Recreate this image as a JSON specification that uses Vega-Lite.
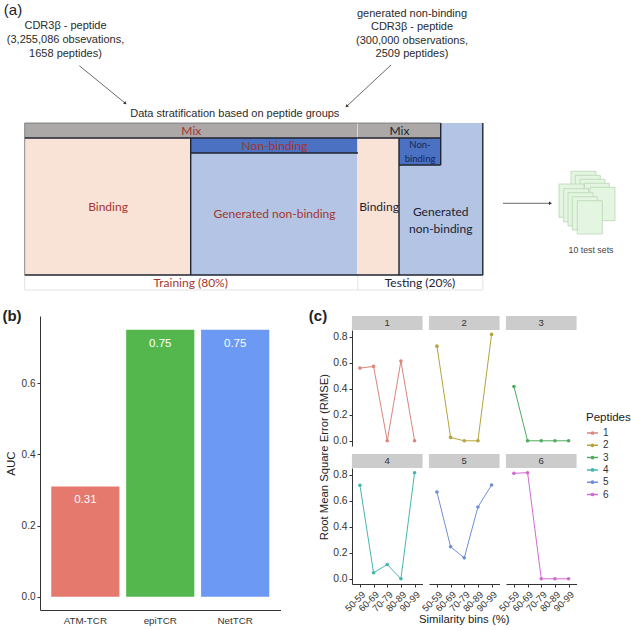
{
  "$schema": "https://vega.github.io/schema/vega-lite/v6.json",
  "padding": 0,
  "background": "white",
  "spacing": 0,
  "resolve": {"scale": {"color": "independent"}},
  "config": {
    "view": {"stroke": null},
    "font": "Liberation Sans",
    "axis": {"domainColor": "#333333", "tickColor": "#333333", "labelColor": "#333333", "titleColor": "#222222", "grid": false, "tickSize": 3}
  },
  "vconcat": [
    {
      "width": 631,
      "height": 309,
      "data": {"values": [{}]},
      "encoding": {
        "x": {"field": "x", "type": "quantitative", "scale": {"domain": [0, 631], "nice": false}, "axis": null},
        "y": {"field": "y", "type": "quantitative", "scale": {"domain": [309, 0], "nice": false}, "axis": null}
      },
      "layer": [
        {
          "data": {"values": [
            {"part": "Generated", "x": 399, "x2": 482.8, "y": 123, "y2": 275},
            {"part": "Mix", "x": 24.7, "x2": 357.3, "y": 123, "y2": 138},
            {"part": "Mix", "x": 357.8, "x2": 440.7, "y": 123, "y2": 138},
            {"part": "Binding", "x": 24.7, "x2": 190.7, "y": 138, "y2": 275},
            {"part": "Generated", "x": 190.7, "x2": 357.3, "y": 153, "y2": 275},
            {"part": "Non-binding", "x": 190.7, "x2": 357.3, "y": 138, "y2": 153},
            {"part": "Binding", "x": 357.8, "x2": 399, "y": 138, "y2": 275},
            {"part": "Non-binding", "x": 399, "x2": 440.7, "y": 138, "y2": 165}
          ]},
          "mark": {"type": "rect"},
          "encoding": {
            "x2": {"field": "x2"},
            "y2": {"field": "y2"},
            "color": {"field": "part", "type": "nominal", "legend": null, "scale": {"domain": ["Mix", "Binding", "Generated", "Non-binding"], "range": ["#ABA8A7", "#F9E3D6", "#B3C4E4", "#4A71C2"]}}
          }
        },
        {
          "data": {"values": [
            {"x": 24.7, "x2": 24.7, "y": 275, "y2": 290},
            {"x": 357.8, "x2": 357.8, "y": 275, "y2": 290},
            {"x": 482.8, "x2": 482.8, "y": 275, "y2": 290},
            {"x": 24.7, "x2": 482.8, "y": 290, "y2": 290}
          ]},
          "mark": {"type": "rule", "color": "#E3E3E3", "strokeWidth": 1},
          "encoding": {"x2": {"field": "x2"}, "y2": {"field": "y2"}}
        },
        {
          "data": {"values": [
            {"x": 190.7, "x2": 190.7, "y": 138, "y2": 275},
            {"x": 399, "x2": 399, "y": 138, "y2": 275},
            {"x": 482.8, "x2": 482.8, "y": 123, "y2": 275},
            {"x": 440.7, "x2": 440.7, "y": 123, "y2": 165},
            {"x": 24.7, "x2": 440.7, "y": 138, "y2": 138},
            {"x": 190.7, "x2": 358, "y": 153, "y2": 153},
            {"x": 399, "x2": 440.7, "y": 165, "y2": 165},
            {"x": 24.7, "x2": 482.8, "y": 275, "y2": 275}
          ]},
          "mark": {"type": "rule", "color": "#1F2430", "strokeWidth": 1.4},
          "encoding": {"x2": {"field": "x2"}, "y2": {"field": "y2"}}
        },
        {
          "data": {"values": [
            {"x": 24.7, "x2": 24.7, "y": 123, "y2": 275},
            {"x": 24.7, "x2": 440.7, "y": 123, "y2": 123}
          ]},
          "mark": {"type": "rule", "color": "#6F6F6F", "strokeWidth": 0.8},
          "encoding": {"x2": {"field": "x2"}, "y2": {"field": "y2"}}
        },
        {
          "data": {"values": [
            {"x": 79.3, "x2": 125, "y": 65.7, "y2": 103},
            {"x": 391, "x2": 347, "y": 65, "y2": 106},
            {"x": 503, "x2": 550, "y": 203.3, "y2": 203.3}
          ]},
          "mark": {"type": "rule", "color": "#444444", "strokeWidth": 0.8},
          "encoding": {"x2": {"field": "x2"}, "y2": {"field": "y2"}}
        },
        {
          "data": {"values": [
            {"x": 125, "y": 103, "dir": 130},
            {"x": 347, "y": 106, "dir": 227},
            {"x": 550, "y": 203.3, "dir": 90}
          ]},
          "mark": {"type": "point", "shape": "triangle", "filled": true, "size": 12, "color": "#333333", "opacity": 1},
          "encoding": {"angle": {"field": "dir", "type": "quantitative", "scale": null}}
        },
        {
          "data": {"values": [
            {"x": 571, "x2": 596, "y": 171.3, "y2": 204.6},
            {"x": 575.3, "x2": 600.3, "y": 175.3, "y2": 208.6},
            {"x": 580, "x2": 605, "y": 179.3, "y2": 212.6},
            {"x": 584.3, "x2": 609.3, "y": 183.3, "y2": 216.6},
            {"x": 590, "x2": 615, "y": 187.3, "y2": 220.6},
            {"x": 559, "x2": 584, "y": 184, "y2": 217.3},
            {"x": 563.7, "x2": 588.7, "y": 188.7, "y2": 222},
            {"x": 568, "x2": 593, "y": 192.7, "y2": 226},
            {"x": 572.3, "x2": 597.3, "y": 196.7, "y2": 230},
            {"x": 577.3, "x2": 602.3, "y": 200.7, "y2": 234}
          ]},
          "mark": {"type": "rect", "fill": "#E4F5E1", "stroke": "#B9D8B4", "strokeWidth": 0.8},
          "encoding": {"x2": {"field": "x2"}, "y2": {"field": "y2"}}
        },
        {
          "data": {"values": [
            {"t": "CDR3β - peptide", "x": 65.5, "y": 26},
            {"t": "(3,255,086 obsevations,", "x": 65.5, "y": 40},
            {"t": "1658 peptides)", "x": 65.5, "y": 54},
            {"t": "generated non-binding", "x": 412, "y": 14},
            {"t": "CDR3β - peptide", "x": 412, "y": 27},
            {"t": "(300,000 observations,", "x": 412, "y": 41},
            {"t": "2509 peptides)", "x": 412, "y": 54},
            {"t": "Data stratification based on peptide groups", "x": 234.8, "y": 114}
          ]},
          "mark": {"type": "text", "font": "Liberation Sans", "fontSize": 11, "color": "#2B2B2B"},
          "encoding": {"text": {"field": "t"}}
        },
        {
          "data": {"values": [{"t": "(a)", "x": 13, "y": 10}]},
          "mark": {"type": "text", "fontSize": 15, "color": "#222222"},
          "encoding": {"text": {"field": "t"}}
        },
        {
          "data": {"values": [{"t": "10 test sets", "x": 591, "y": 249.5}]},
          "mark": {"type": "text", "fontSize": 8.8, "color": "#444444"},
          "encoding": {"text": {"field": "t"}}
        },
        {
          "data": {"values": [
            {"t": "Mix", "x": 191.3, "y": 131},
            {"t": "Non-binding", "x": 274.5, "y": 146},
            {"t": "Binding", "x": 108, "y": 207},
            {"t": "Generated non-binding", "x": 274.5, "y": 214},
            {"t": "Training (80%)", "x": 190.7, "y": 282.5}
          ]},
          "mark": {"type": "text", "font": "Lato", "fontSize": 12, "color": "#A5342E"},
          "encoding": {"text": {"field": "t"}}
        },
        {
          "data": {"values": [
            {"t": "Mix", "x": 399.5, "y": 131},
            {"t": "Binding", "x": 379, "y": 207},
            {"t": "Generated", "x": 440.7, "y": 212},
            {"t": "non-binding", "x": 440.7, "y": 229},
            {"t": "Testing (20%)", "x": 420, "y": 282.5}
          ]},
          "mark": {"type": "text", "font": "Lato", "fontSize": 12, "color": "#1C2233"},
          "encoding": {"text": {"field": "t"}}
        },
        {
          "data": {"values": [
            {"t": "Non-", "x": 420, "y": 145},
            {"t": "binding", "x": 420, "y": 159}
          ]},
          "mark": {"type": "text", "font": "Lato", "fontSize": 9.5, "color": "#14275C"},
          "encoding": {"text": {"field": "t"}}
        }
      ]
    },
    {
      "bounds": "flush",
      "spacing": 0,
      "resolve": {"scale": {"color": "independent"}},
      "hconcat": [
        {
          "width": 39.5,
          "height": 294,
          "data": {"values": [{"t": "(b)", "x": 12, "y": 0}]},
          "mark": {"type": "text", "fontSize": 15, "fontWeight": "bold", "color": "#222222"},
          "encoding": {
            "x": {"field": "x", "type": "quantitative", "scale": {"domain": [0, 39.5], "nice": false}, "axis": null},
            "y": {"field": "y", "type": "quantitative", "scale": {"domain": [294, 0], "nice": false}, "axis": null},
            "text": {"field": "t"}
          }
        },
        {
          "width": 240.5,
          "height": 294,
          "data": {"values": [
            {"tool": "ATM-TCR", "auc": 0.31},
            {"tool": "epiTCR", "auc": 0.75},
            {"tool": "NetTCR", "auc": 0.75}
          ]},
          "encoding": {
            "x": {"field": "tool", "type": "nominal", "title": null, "sort": null,
              "scale": {"paddingInner": 0.09, "paddingOuter": 0.15},
              "axis": {"labelAngle": 0, "labelFontSize": 9.8, "ticks": false, "labelPadding": 5}},
            "y": {"field": "auc", "type": "quantitative", "title": "AUC",
              "scale": {"domain": [-0.0375, 0.789], "nice": false, "zero": false},
              "axis": {"values": [0, 0.2, 0.4, 0.6], "format": ".1f", "labelFontSize": 10, "titleFontSize": 11.5, "titleFontWeight": "normal", "titlePadding": 5}}
          },
          "layer": [
            {
              "mark": {"type": "bar"},
              "encoding": {
                "y2": {"datum": 0},
                "color": {"field": "tool", "type": "nominal", "legend": null, "scale": {"domain": ["ATM-TCR", "epiTCR", "NetTCR"], "range": ["#E5796E", "#53B74E", "#6B99F3"]}}
              }
            },
            {
              "mark": {"type": "text", "baseline": "middle", "dy": 14, "fontSize": 11.5, "color": "white"},
              "encoding": {"text": {"field": "auc", "type": "quantitative", "format": ".2f"}}
            }
          ]
        },
        {
          "width": 70.7,
          "height": 294,
          "data": {"values": [{"t": "(c)", "x": 37, "y": 0}]},
          "mark": {"type": "text", "fontSize": 15, "fontWeight": "bold", "color": "#222222"},
          "encoding": {
            "x": {"field": "x", "type": "quantitative", "scale": {"domain": [0, 70.7], "nice": false}, "axis": null},
            "y": {"field": "y", "type": "quantitative", "scale": {"domain": [294, 0], "nice": false}, "axis": null},
            "text": {"field": "t"}
          }
        },
        {
          "bounds": "flush",
          "spacing": 0,
          "vconcat": [
            {
              "width": 70.5,
              "height": 14,
              "data": {"values": [{"t": ""}]},
              "mark": {"type": "text"},
              "encoding": {"text": {"field": "t"}}
            },
            {
              "data": {"values": [
                {"peptide": "1", "bin": "50-59", "rmse": 0.559},
                {"peptide": "1", "bin": "60-69", "rmse": 0.572},
                {"peptide": "1", "bin": "70-79", "rmse": 0},
                {"peptide": "1", "bin": "80-89", "rmse": 0.613},
                {"peptide": "1", "bin": "90-99", "rmse": 0},
                {"peptide": "2", "bin": "50-59", "rmse": 0.728},
                {"peptide": "2", "bin": "60-69", "rmse": 0.026},
                {"peptide": "2", "bin": "70-79", "rmse": 0},
                {"peptide": "2", "bin": "80-89", "rmse": 0},
                {"peptide": "2", "bin": "90-99", "rmse": 0.818},
                {"peptide": "3", "bin": "50-59", "rmse": 0.418},
                {"peptide": "3", "bin": "60-69", "rmse": 0},
                {"peptide": "3", "bin": "70-79", "rmse": 0},
                {"peptide": "3", "bin": "80-89", "rmse": 0},
                {"peptide": "3", "bin": "90-99", "rmse": 0},
                {"peptide": "4", "bin": "50-59", "rmse": 0.719},
                {"peptide": "4", "bin": "60-69", "rmse": 0.046},
                {"peptide": "4", "bin": "70-79", "rmse": 0.11},
                {"peptide": "4", "bin": "80-89", "rmse": 0},
                {"peptide": "4", "bin": "90-99", "rmse": 0.816},
                {"peptide": "5", "bin": "50-59", "rmse": 0.668},
                {"peptide": "5", "bin": "60-69", "rmse": 0.246},
                {"peptide": "5", "bin": "70-79", "rmse": 0.161},
                {"peptide": "5", "bin": "80-89", "rmse": 0.552},
                {"peptide": "5", "bin": "90-99", "rmse": 0.721},
                {"peptide": "6", "bin": "50-59", "rmse": 0.811},
                {"peptide": "6", "bin": "60-69", "rmse": 0.816},
                {"peptide": "6", "bin": "70-79", "rmse": 0},
                {"peptide": "6", "bin": "80-89", "rmse": 0},
                {"peptide": "6", "bin": "90-99", "rmse": 0}
              ]},
              "facet": {"field": "peptide", "type": "nominal", "title": null, "header": {"labels": false, "labelExpr": "''", "labelFontSize": 0, "labelColor": "transparent", "labelPadding": 0, "title": null}},
              "columns": 3,
              "bounds": "flush",
              "spacing": {"column": 6, "row": 22},
              "spec": {
                "width": 70.5,
                "height": 116,
                "encoding": {
                  "x": {"field": "bin", "type": "ordinal", "title": null,
                    "scale": {"type": "point", "domain": ["50-59", "60-69", "70-79", "80-89", "90-99"], "padding": 0.58},
                    "axis": {"labelAngle": -45, "labelAlign": "right", "labelBaseline": "top", "labelFontSize": 9.5, "labelPadding": 2}},
                  "y": {"field": "rmse", "type": "quantitative", "title": null,
                    "scale": {"domain": [-0.04, 0.852], "nice": false, "zero": false},
                    "axis": {"values": [0, 0.2, 0.4, 0.6, 0.8], "format": ".1f", "labelFontSize": 10.3}}
                },
                "layer": [
                  {
                    "transform": [{"filter": "datum.bin == '70-79'"}],
                    "mark": {"type": "rect", "color": "#CCCCCC", "clip": false, "xOffset": -8, "x2Offset": 8},
                    "encoding": {
                      "x": {"datum": "50-59", "type": "ordinal"},
                      "x2": {"datum": "90-99"},
                      "y": {"datum": 0.96},
                      "y2": {"datum": 0.852}
                    }
                  },
                  {
                    "transform": [{"filter": "datum.bin == '70-79'"}],
                    "mark": {"type": "text", "fontSize": 9.5, "color": "#333333"},
                    "encoding": {
                      "y": {"datum": 0.906},
                      "text": {"field": "peptide"}
                    }
                  },
                  {
                    "mark": {"type": "line", "strokeWidth": 1},
                    "encoding": {
                      "color": {"field": "peptide", "type": "nominal", "title": "Peptides",
                        "scale": {"domain": ["1", "2", "3", "4", "5", "6"], "range": ["#D9857B", "#B5A33B", "#4FAB5E", "#46B5B0", "#6D8FD8", "#D06BD0"]},
                        "legend": {"orient": "none", "legendX": 234, "legendY": 96, "titleFontSize": 11.5, "titleFontWeight": "normal", "titleColor": "#222222", "labelFontSize": 10, "labelColor": "#333333", "rowPadding": 0.3, "titlePadding": 3, "symbolSize": 120,
                          "symbolType": "M-1,0H1M-0.2,0A0.2,0.2 0 1,0 0.2,0A0.2,0.2 0 1,0 -0.2,0Z"}}
                    }
                  },
                  {
                    "mark": {"type": "point", "filled": true, "size": 13, "opacity": 1},
                    "encoding": {"color": {"field": "peptide", "type": "nominal"}}
                  },
                  {
                    "transform": [{"filter": "datum.peptide == '4' && datum.bin == '50-59'"}],
                    "mark": {"type": "text", "angle": 270, "dy": -35, "fontSize": 11.3, "color": "#222222", "text": "Root Mean Square Error (RMSE)"},
                    "encoding": {"y": {"datum": 0.936}}
                  },
                  {
                    "transform": [{"filter": "datum.peptide == '5' && datum.bin == '70-79'"}],
                    "mark": {"type": "text", "fontSize": 11.3, "color": "#222222", "text": "Similarity bins (%)"},
                    "encoding": {"y": {"datum": -0.317}}
                  }
                ]
              }
            }
          ]
        }
      ]
    }
  ]
}
